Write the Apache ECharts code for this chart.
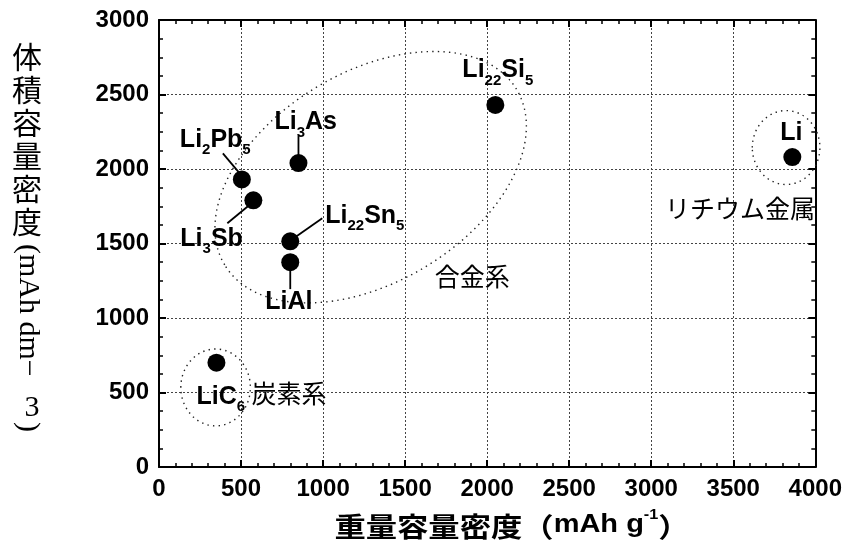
<!DOCTYPE html>
<html>
<head>
<meta charset="utf-8">
<script src="https://cdn.jsdelivr.net/npm/echarts@6/dist/echarts.min.js"></script>
<style>
  html, body { margin: 0; padding: 0; background: #fff; }
  #chart { width: 845px; height: 553px; }
</style>
</head>
<body>
<div id="chart"></div>
<script>
// Negative-electrode materials: gravimetric vs volumetric capacity
const compounds   = ['Li22Si5', 'Li3As', 'Li2Pb5', 'Li3Sb', 'Li22Sn5', 'LiAl', 'LiC6', 'Li'];
const gravimetric = [2050, 850, 505, 575, 800, 800, 350, 3860];   // mAh g-1
const volumetric  = [2430, 2040, 1930, 1790, 1515, 1375, 700, 2080]; // mAh dm-3
// chemical formulas as rich text (s = subscript)
const formulaText = [
  '{m|Li}{s|22}{m|Si}{s|5}', '{m|Li}{s|3}{m|As}', '{m|Li}{s|2}{m|Pb}{s|5}', '{m|Li}{s|3}{m|Sb}',
  '{m|Li}{s|22}{m|Sn}{s|5}', '{m|LiAl}', '{m|LiC}{s|6}', '{m|Li}'
];

// Material families, outlined by dotted ellipses (centre and half-axes in axis units)
const groupNames   = ['合金系', '炭素系', 'リチウム金属'];
const groupCenterX = [1290, 345, 3822];
const groupCenterY = [1945, 534, 2144];
const groupHalfX   = [1038, 212, 206];
const groupHalfY   = [705, 258, 248];
const groupTiltDeg = [31, 0, 0];

// Axis ranges
const xMin = 0, xMax = 4000, xStep = 500;
const yMin = 0, yMax = 3000, yStep = 500;

// ---- styling / placement of annotations (pixel offsets from the marker) ----
const labelOffsets = [
  [-33, -47], [-24, -53], [-62, -52], [-73, 26], [35, -38], [-25, 27], [-20, 22], [-12, -36]
];
const leaderLines = [
  null, [[0, -27], [0, -2]], [[-19, -26], [-3, -7]], [[-26, 23], [-3, 4]],
  [[2, -2], [32, -23]], [[0, 2], [0, 27]], null, null
];
const groupLabelPlace = [
  { dx: 64, dy: 87, align: 'left' },
  { dx: 36, dy: -6, align: 'left' },
  { dx: 29, dy: 48, align: 'right' }
];

const LATIN = '"Liberation Sans", Arial, sans-serif';
const CJK = '"Noto Sans CJK JP", sans-serif';
const SERIF = '"Liberation Serif", "Times New Roman", serif';

const formulaRich = {
  m: { fontSize: 25, fontWeight: 'bold', fontFamily: LATIN, color: '#000', lineHeight: 26, verticalAlign: 'top' },
  s: { fontSize: 15, fontWeight: 'bold', fontFamily: LATIN, color: '#000', lineHeight: 14, padding: [15, 0, 0, 0], verticalAlign: 'top' }
};

const chart = echarts.init(document.getElementById('chart'), null, { renderer: 'canvas' });

function renderGroup(params, api) {
  const i = api.value(5);
  const c = api.coord([api.value(0), api.value(1)]);
  const rx = api.size([api.value(2), 0])[0];
  const ry = api.size([0, api.value(3)])[1];
  const tilt = api.value(4) * Math.PI / 180;
  const place = groupLabelPlace[i];
  return {
    type: 'group',
    children: [
      {
        type: 'ellipse',
        x: c[0], y: c[1], rotation: tilt,
        shape: { cx: 0, cy: 0, rx: rx, ry: ry },
        style: { fill: null, stroke: '#222', lineWidth: 1.4, lineDash: [1.4, 4.2] }
      },
      {
        type: 'text',
        x: c[0] + place.dx, y: c[1] + place.dy,
        style: {
          text: groupNames[i], fill: '#000', font: 'normal 25px ' + CJK,
          textAlign: place.align, textVerticalAlign: 'top'
        }
      }
    ]
  };
}

function renderLabel(params, api) {
  const i = api.value(2);
  const p = api.coord([api.value(0), api.value(1)]);
  const off = labelOffsets[i];
  const children = [{
    type: 'text',
    x: p[0] + off[0], y: p[1] + off[1],
    style: { text: formulaText[i], rich: formulaRich, fill: '#000', textAlign: 'left', textVerticalAlign: 'top' }
  }];
  const ln = leaderLines[i];
  if (ln) {
    children.push({
      type: 'line',
      shape: { x1: p[0] + ln[0][0], y1: p[1] + ln[0][1], x2: p[0] + ln[1][0], y2: p[1] + ln[1][1] },
      style: { stroke: '#000', lineWidth: 1.8 }
    });
  }
  return { type: 'group', children: children };
}

const plainNumber = v => String(v);

const axisCommon = {
  type: 'value',
  axisLine: { show: true, onZero: false, lineStyle: { color: '#000', width: 2 } },
  axisTick: { show: true, inside: true, length: 7, lineStyle: { color: '#000', width: 2 } },
  minorTick: { show: true, length: 4, lineStyle: { color: '#000', width: 1.5 } }
};

const option = {
  backgroundColor: '#fff',
  animation: false,
  grid: { left: 159, right: 27, top: 20, bottom: 86, containLabel: false },
  xAxis: [
    Object.assign({}, axisCommon, {
      min: xMin, max: xMax, interval: xStep, position: 'bottom',
      minorTick: Object.assign({}, axisCommon.minorTick, { splitNumber: 5 }),
      axisLabel: { color: '#000', fontSize: 24, fontWeight: 'bold', fontFamily: LATIN, margin: 10, formatter: plainNumber },
      splitLine: { show: true, lineStyle: { color: '#444', width: 1, type: [2, 2] } }
    }),
    Object.assign({}, axisCommon, {
      min: xMin, max: xMax, interval: xStep, position: 'top',
      minorTick: Object.assign({}, axisCommon.minorTick, { splitNumber: 5 }),
      axisLabel: { show: false }, splitLine: { show: false }
    })
  ],
  yAxis: [
    Object.assign({}, axisCommon, {
      min: yMin, max: yMax, interval: yStep, position: 'left',
      minorTick: Object.assign({}, axisCommon.minorTick, { splitNumber: 4 }),
      axisLabel: { color: '#000', fontSize: 24, fontWeight: 'bold', fontFamily: LATIN, margin: 10, formatter: plainNumber },
      splitLine: { show: true, lineStyle: { color: '#444', width: 1, type: [2, 2] } }
    }),
    Object.assign({}, axisCommon, {
      min: yMin, max: yMax, interval: yStep, position: 'right',
      minorTick: Object.assign({}, axisCommon.minorTick, { splitNumber: 4 }),
      axisLabel: { show: false }, splitLine: { show: false }
    })
  ],
  series: [
    {
      type: 'custom', name: 'families', coordinateSystem: 'cartesian2d', z: 2, silent: true,
      renderItem: renderGroup,
      data: groupNames.map((n, i) => [groupCenterX[i], groupCenterY[i], groupHalfX[i], groupHalfY[i], groupTiltDeg[i], i])
    },
    {
      type: 'scatter', name: 'materials', z: 3,
      symbol: 'circle', symbolSize: 18,
      itemStyle: { color: '#000', opacity: 1 },
      data: compounds.map((n, i) => [gravimetric[i], volumetric[i]])
    },
    {
      type: 'custom', name: 'formulas', coordinateSystem: 'cartesian2d', z: 4, silent: true,
      renderItem: renderLabel,
      data: compounds.map((n, i) => [gravimetric[i], volumetric[i], i])
    }
  ],
  graphic: [
    // y-axis title, vertical writing
    {
      type: 'text', left: 12, top: 40,
      style: { text: '体\n積\n容\n量\n密\n度', font: 'normal 30px ' + CJK, lineHeight: 33, fill: '#000', textAlign: 'left' }
    },
    {
      type: 'text', x: 28, y: 244, rotation: -Math.PI / 2,
      style: { text: '(mAh dm\u2212', font: 'normal 30px ' + SERIF, fill: '#000', textAlign: 'left', textVerticalAlign: 'middle' }
    },
    {
      type: 'text', x: 32, y: 408,
      style: { text: '3', font: 'normal 30px ' + SERIF, fill: '#000', textAlign: 'center', textVerticalAlign: 'middle' }
    },
    {
      type: 'text', x: 28, y: 422, rotation: -Math.PI / 2,
      style: { text: ')', font: 'normal 30px ' + SERIF, fill: '#000', textAlign: 'left', textVerticalAlign: 'middle' }
    },
    // x-axis title
    {
      type: 'text', x: 512, y: 524, scaleX: 1.16,
      style: {
        text: '{c|重量容量密度（}{l|mAh g}{p|-1}{c|）}',
        textAlign: 'center', textVerticalAlign: 'middle',
        rich: {
          c: { font: 'bold 27px ' + CJK, fill: '#000', lineHeight: 32, verticalAlign: 'bottom' },
          l: { font: 'bold 25px ' + LATIN, fill: '#000', lineHeight: 32, verticalAlign: 'bottom', padding: [0, 0, 2, 0] },
          p: { font: 'bold 14px ' + LATIN, fill: '#000', lineHeight: 14, verticalAlign: 'top' }
        }
      }
    }
  ]
};

chart.setOption(option);
</script>
</body>
</html>
